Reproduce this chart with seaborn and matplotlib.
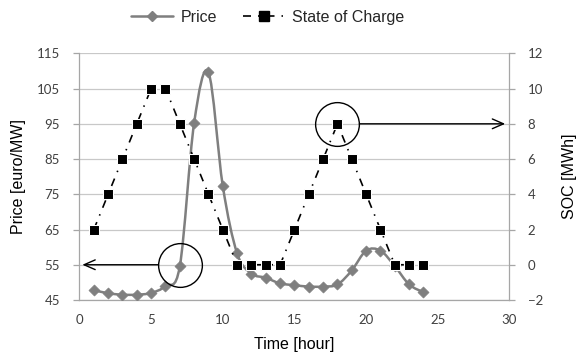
import numpy as np
import pandas as pd
import matplotlib
matplotlib.use("Agg")
import matplotlib.pyplot as plt
from matplotlib.path import Path
from matplotlib.patches import PathPatch
from matplotlib.lines import Line2D
import seaborn as sns

hours = list(range(1, 25))
price = [47.8, 46.9, 46.5, 46.5, 47.0, 49.0, 54.6, 95.3, 109.6, 77.3, 58.2, 52.5,
         51.3, 49.7, 49.2, 48.8, 48.8, 49.4, 53.4, 59.0, 59.0, 54.6, 49.4, 47.2]
soc = [2, 4, 6, 8, 10, 10, 8, 6, 4, 2, 0, 0, 0, 0, 2, 4, 6, 8, 6, 4, 2, 0, 0, 0]
price_ticks = [45, 55, 65, 75, 85, 95, 105, 115]
soc_ticks = [-2, 0, 2, 4, 6, 8, 10, 12]
x_ticks = [0, 5, 10, 15, 20, 25, 30]

df = pd.DataFrame({"hour": hours, "price": price, "soc": soc})

sns.set_style("white")
plt.rcParams["font.family"] = ["Liberation Sans", "DejaVu Sans"]

GRAY = "#7f7f7f"
AXIS = "#a6a6a6"
DASHDOT = (0, (4.8, 4.2, 0.9, 4.2))


def smooth_path(x, y):
    # excel style smoothed line: cubic bezier segments through the points
    pts = np.column_stack([x, y]).astype(float)
    n = len(pts)
    verts = [pts[0]]
    codes = [Path.MOVETO]
    for i in range(n - 1):
        p0 = pts[max(i - 1, 0)]
        p1 = pts[i]
        p2 = pts[i + 1]
        p3 = pts[min(i + 2, n - 1)]
        verts += [p1 + (p2 - p0) / 6, p2 - (p3 - p1) / 6, p2]
        codes += [Path.CURVE4] * 3
    return Path(verts, codes)


fig = plt.figure(figsize=(5.76, 3.63), dpi=100)
ax = fig.add_axes([0.138, 0.1736, 0.7465, 0.6794])
ax2 = ax.twinx()

# price on the left axis
ax.add_patch(PathPatch(smooth_path(df["hour"], df["price"]), facecolor="none",
                       edgecolor=GRAY, lw=1.8, zorder=2))
sns.scatterplot(data=df, x="hour", y="price", ax=ax, marker="D", color=GRAY,
                edgecolor=GRAY, s=32, zorder=3, legend=False)

# state of charge on the right axis
sns.lineplot(data=df, x="hour", y="soc", ax=ax2, color="black", marker="s",
             markersize=6.5, lw=1.2, legend=False)
ax2.lines[0].set_linestyle(DASHDOT)

ax.set_xlim(0, 30)
ax.set_ylim(45, 115)
ax2.set_ylim(-2, 12)
ax.set_xticks(x_ticks)
ax.set_yticks(price_ticks)
ax2.set_yticks(soc_ticks)

ax.yaxis.grid(True, color="#c8c8c8", lw=0.9)
ax.set_axisbelow(True)

for a in (ax, ax2):
    for s in a.spines.values():
        s.set_visible(False)
ax.spines["left"].set_visible(True)
ax.spines["bottom"].set_visible(True)
ax2.spines["right"].set_visible(True)
for s in (ax.spines["left"], ax.spines["bottom"], ax2.spines["right"]):
    s.set_color(AXIS)
    s.set_linewidth(0.9)

ax.tick_params(axis="both", direction="out", length=4, width=0.9, color=AXIS,
               labelsize=9.5, labelcolor="#404040", pad=5)
ax.tick_params(axis="x", pad=6)
ax2.tick_params(axis="y", direction="out", length=4, width=0.9, color=AXIS,
                labelsize=9.5, labelcolor="#404040", pad=9)
ax.tick_params(axis="y", pad=10)
for lab in ax.get_xticklabels() + ax.get_yticklabels() + ax2.get_yticklabels():
    lab.set_family(["Lato", "DejaVu Sans"])

ax.set_xlabel("Time [hour]", fontsize=11.5, labelpad=8, color="black")
ax.set_ylabel("Price [euro/MW]", fontsize=11.5, color="black")
ax2.set_ylabel("SOC [MWh]", fontsize=11.5, color="black")
ax.yaxis.set_label_coords(-0.125, 0.5)
ax2.yaxis.set_label_coords(1.122, 0.5)

# circles and arrows
ax.plot(7, 55, marker="o", markersize=31.5, mfc="none", mec="black",
        mew=1.0, zorder=5)
ax2.plot(18, 8, marker="o", markersize=31.5, mfc="none", mec="black",
         mew=1.0, zorder=5)
ax.annotate("", xy=(0.2, 55), xytext=(7, 55),
            arrowprops=dict(arrowstyle="->,head_length=0.8,head_width=0.35",
                            color="black", lw=1.0, shrinkA=15.8, shrinkB=0))
ax2.annotate("", xy=(29.7, 8), xytext=(18, 8),
             arrowprops=dict(arrowstyle="->,head_length=0.8,head_width=0.35",
                             color="black", lw=1.0, shrinkA=15.8, shrinkB=0))

handles = [
    Line2D([], [], color=GRAY, lw=1.8, marker="D", markersize=5.5),
    Line2D([], [], color="black", lw=1.2, ls=DASHDOT, marker="s", markersize=6.5),
]
fig.legend(handles, ["Price", "State of Charge"], loc="center",
           bbox_to_anchor=(0.465, 0.953), ncol=2, frameon=False, fontsize=11.5,
           handlelength=2.6, columnspacing=1.6, handletextpad=0.5)

fig.savefig("out.png", dpi=100, facecolor="white")
